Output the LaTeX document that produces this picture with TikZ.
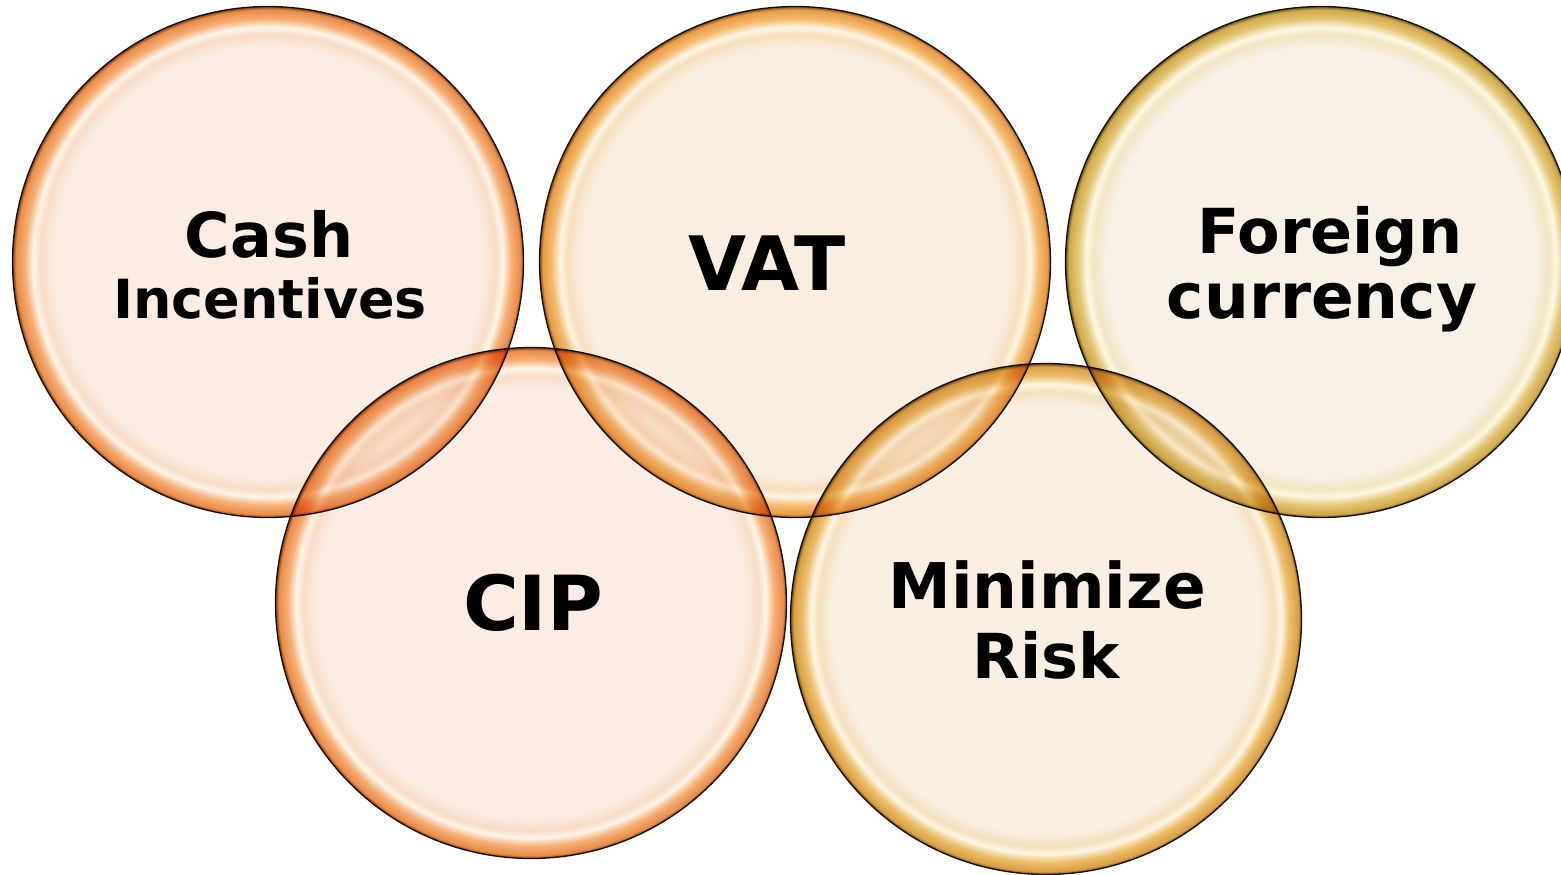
\documentclass[tikz,border=0pt]{standalone}
\usepackage{fontspec}
\setmainfont{DejaVu Sans}
% orange (Cash, CIP)
\definecolor{inA}{RGB}{251,237,228}
\definecolor{midA}{RGB}{249,222,200}
\definecolor{hiA}{RGB}{254,244,232}
\definecolor{rimA}{RGB}{245,175,118}
\definecolor{dpA}{RGB}{234,140,72}
\definecolor{dkA}{RGB}{120,60,20}
% light orange (VAT)
\definecolor{inB}{RGB}{250,238,225}
\definecolor{midB}{RGB}{248,224,192}
\definecolor{hiB}{RGB}{254,245,228}
\definecolor{rimB}{RGB}{243,188,112}
\definecolor{dpB}{RGB}{232,155,70}
\definecolor{dkB}{RGB}{120,75,20}
% gold (Foreign currency)
\definecolor{inC}{RGB}{248,241,231}
\definecolor{midC}{RGB}{242,230,196}
\definecolor{hiC}{RGB}{253,248,228}
\definecolor{rimC}{RGB}{228,198,118}
\definecolor{dpC}{RGB}{208,170,75}
\definecolor{dkC}{RGB}{100,80,20}
% gold-orange (Minimize Risk)
\definecolor{inD}{RGB}{249,239,226}
\definecolor{midD}{RGB}{246,225,192}
\definecolor{hiD}{RGB}{254,246,228}
\definecolor{rimD}{RGB}{236,190,108}
\definecolor{dpD}{RGB}{218,160,68}
\definecolor{dkD}{RGB}{110,75,20}
\newcommand{\mkrim}[7]{%
\pgfdeclareradialshading{#1}{\pgfpoint{0bp}{0bp}}{%
color(0bp)=(#2); color(21bp)=(#2); color(22.3bp)=(#3);
color(23bp)=(#4); color(23.8bp)=(#5); color(24.7bp)=(#6);
color(25bp)=(#7); color(50bp)=(#7)}}
\mkrim{rimshA}{inA}{midA}{hiA}{rimA}{dpA}{dkA}
\mkrim{rimshB}{inB}{midB}{hiB}{rimB}{dpB}{dkB}
\mkrim{rimshC}{inC}{midC}{hiC}{rimC}{dpC}{dkC}
\mkrim{rimshD}{inD}{midD}{hiD}{rimD}{dpD}{dkD}
\tikzset{
  ball/.style={circle, minimum size=511pt, inner sep=0pt, outer sep=0pt,
    draw=black!90, line width=1.3pt},
  lbl/.style={anchor=base, inner sep=0pt, text=black}
}
\begin{document}
\begin{tikzpicture}[x=1pt,y=-1pt]
\useasboundingbox (0,0) rectangle (1561,875);
\begin{scope}[blend mode=multiply]
\node[ball, shading=rimshA] (c1) at (268,262) {};
\node[ball, shading=rimshB] (c2) at (795,262) {};
\node[ball, shading=rimshC] (c3) at (1321,262) {};
\node[ball, shading=rimshA] (c4) at (531,603) {};
\node[ball, shading=rimshD] (c5) at (1046,619) {};
\end{scope}
\node[lbl, font=\bfseries\fontsize{62}{62}\selectfont] (t1a) at (269,257) {Cash};
\node[lbl, font=\bfseries\fontsize{54}{54}\selectfont] (t1b) at (270,318) {Incentives};
\node[lbl, font=\bfseries\fontsize{75}{75}\selectfont] (t2) at (767,290) {VAT};
\node[lbl, font=\bfseries\fontsize{62}{62}\selectfont] (t3a) at (1330,253) {Foreign};
\node[lbl, font=\bfseries\fontsize{63}{63}\selectfont] (t3b) at (1322,318) {currency};
\node[lbl, font=\bfseries\fontsize{76}{76}\selectfont] (t4) at (533,630) {CIP};
\node[lbl, font=\bfseries\fontsize{63}{63}\selectfont] (t5a) at (1047,608) {Minimize};
\node[lbl, font=\bfseries\fontsize{62}{62}\selectfont] (t5b) at (1046,678) {Risk};
\end{tikzpicture}
\end{document}
